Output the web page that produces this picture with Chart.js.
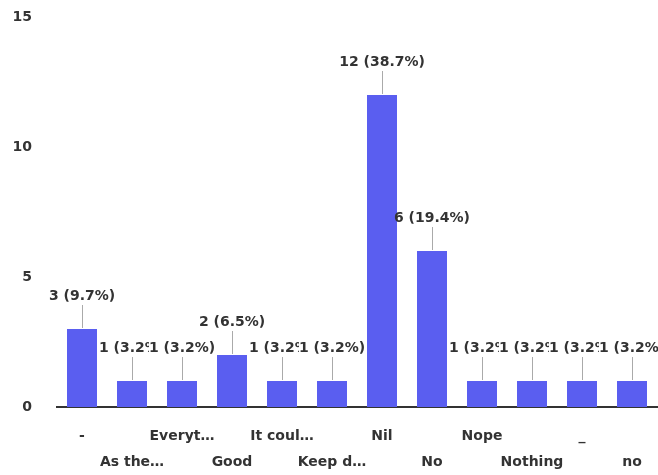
<!DOCTYPE html>
<html lang="en">
<head>
    <meta charset="UTF-8">
    <title>Responses</title>
    <script src="https://cdn.jsdelivr.net/npm/chart.js"></script>
    <style>
        body, html {
            margin: 0;
            padding: 0;
            background: #fff;
        }
        .wrap {
            width: 658px;
            height: 475px;
        }
    </style>
</head>
<body>
    <div class="wrap"><canvas id="answers"></canvas></div>

    <script>
        // answers (truncated like the original chart) and how many people gave them
        const categories = ['-', 'As the…', 'Everyt…', 'Good', 'It coul…', 'Keep d…', 'Nil', 'No', 'Nope', 'Nothing', '_', 'no'];
        const counts = [3, 1, 1, 2, 1, 1, 12, 6, 1, 1, 1, 1];
        const yTicks = [0, 5, 10, 15];

        const total = counts.reduce((a, b) => a + b, 0);
        const FONT = '"DejaVu Sans", Verdana, sans-serif';

        // labels alternate between two rows so they don't collide
        const rowLabels = categories.map((c, i) => i % 2 === 0 ? [c, ''] : ['', c]);

        // value + percent above each bar, with a thin leader line
        const barLabels = {
            id: 'barLabels',
            afterDatasetsDraw(chart) {
                const ctx = chart.ctx;
                const bars = chart.getDatasetMeta(0).data;
                ctx.save();
                ctx.font = 'bold 14px ' + FONT;
                ctx.textAlign = 'center';
                ctx.textBaseline = 'middle';

                const items = bars.map((bar, i) => {
                    const v = counts[i];
                    const text = v + ' (' + (v / total * 100).toFixed(1) + '%)';
                    const w = ctx.measureText(text).width;
                    return { x: bar.x, y: bar.y, text, left: bar.x - w / 2, right: bar.x + w / 2 };
                });

                items.forEach((it, i) => {
                    ctx.strokeStyle = '#aaa';
                    ctx.lineWidth = 1;
                    ctx.beginPath();
                    ctx.moveTo(Math.round(it.x) + 0.5, it.y - 1);
                    ctx.lineTo(Math.round(it.x) + 0.5, it.y - 24);
                    ctx.stroke();

                    // cut the text where the next label starts on the same line
                    const next = items[i + 1];
                    let clipRight = chart.width;
                    if (next && Math.abs(next.y - it.y) < 14 && next.left < it.right) {
                        clipRight = next.left;
                    }
                    ctx.save();
                    ctx.beginPath();
                    ctx.rect(0, 0, clipRight, chart.height);
                    ctx.clip();
                    ctx.fillStyle = '#333';
                    ctx.fillText(it.text, it.x, it.y - 33);
                    ctx.restore();
                });
                ctx.restore();
            }
        };

        const ctx = document.getElementById('answers').getContext('2d');
        new Chart(ctx, {
            type: 'bar',
            data: {
                labels: rowLabels,
                datasets: [{
                    data: counts,
                    backgroundColor: '#5a5ef0',
                    barPercentage: 1,
                    categoryPercentage: 0.6
                }]
            },
            options: {
                responsive: true,
                maintainAspectRatio: false,
                animation: false,
                layout: {
                    padding: { top: 17, left: 0, right: 1, bottom: 0 }
                },
                plugins: {
                    legend: { display: false },
                    tooltip: { enabled: false }
                },
                scales: {
                    x: {
                        grid: { display: false, drawTicks: false },
                        border: { color: '#333', width: 2 },
                        afterFit(axis) {
                            axis.height = 68;
                            axis.paddingLeft = 0;
                            axis.paddingRight = 0;
                        },
                        ticks: {
                            autoSkip: false,
                            maxRotation: 0,
                            padding: 16,
                            color: '#333',
                            font: { family: FONT, size: 14, weight: 'bold', lineHeight: '26px' }
                        }
                    },
                    y: {
                        min: 0,
                        max: 15,
                        grid: { display: false, drawTicks: false },
                        border: { display: false },
                        afterBuildTicks(axis) {
                            axis.ticks = yTicks.map(v => ({ value: v }));
                        },
                        afterFit(axis) {
                            axis.width = 57;
                            axis.paddingTop = 0;
                            axis.paddingBottom = 0;
                        },
                        ticks: {
                            padding: 25,
                            color: '#333',
                            font: { family: FONT, size: 14, weight: 'bold' }
                        }
                    }
                }
            },
            plugins: [barLabels]
        });
    </script>
</body>
</html>
